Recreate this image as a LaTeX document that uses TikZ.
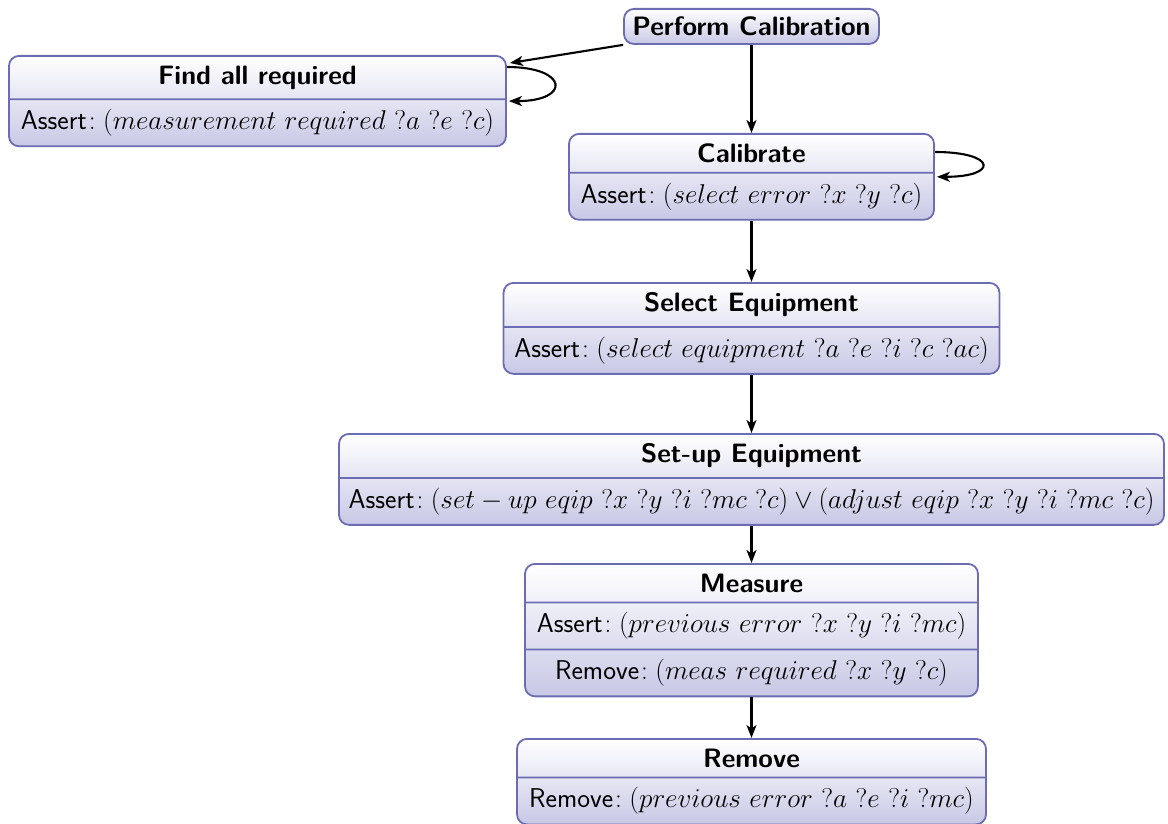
\RequirePackage{fix-cm}
\documentclass[tikz,border=0pt]{standalone}
\usetikzlibrary{shapes.multipart,arrows.meta}
\definecolor{umlborder}{RGB}{108,108,178}
\definecolor{umlfill}{RGB}{200,200,230}
\newcommand\wb[2]{\makebox[#1pt]{#2}}
\newcommand\lbl[1]{#1\kern2pt}
\newcommand\ttl[1]{{\fontsize{26.6}{31}\selectfont\bfseries #1}}
\tikzset{
  state/.style={rectangle split, rectangle split parts=2, draw=umlborder,
    line width=1.8pt, rounded corners=10pt, top color=white, bottom color=umlfill,
    font=\fontsize{27.2}{32}\selectfont\sffamily, inner xsep=8pt, inner ysep=9pt, anchor=north},
  single/.style={rectangle, draw=umlborder, line width=1.8pt, rounded corners=10pt,
    top color=white, bottom color=umlfill,
    font=\fontsize{27.2}{32}\selectfont\sffamily, inner xsep=8pt, inner ysep=8pt, anchor=north},
  arr/.style={-{Stealth[length=13pt,width=10pt,inset=3.5pt]}, line width=2.1pt, black},
}
\begin{document}
\begin{tikzpicture}[x=1pt,y=-1pt]
\useasboundingbox (0,0) rectangle (1168,824);
\node[single] (perf) at (751.5,8) {\wb{239}{\ttl{Perform Calibration}}};
\node[state] (find) at (257.5,55) {\wb{481}{\ttl{Find all required}}\nodepart{two}\wb{481}{\lbl{Assert}$:(measurement\ required\ ?a\ ?e\ ?c)$}};
\node[state] (cal) at (751.5,133) {\wb{349}{\ttl{Calibrate}}\nodepart{two}\wb{349}{\lbl{Assert}$:(select\ error\ ?x\ ?y\ ?c)$}};
\node[state] (sel) at (751.5,282) {\wb{480}{\ttl{Select Equipment}}\nodepart{two}\wb{480}{\lbl{Assert}$:(select\ equipment\ ?a\ ?e\ ?i\ ?c\ ?ac)$}};
\node[state] (setup) at (751.5,433) {\wb{809}{\ttl{Set-up Equipment}}\nodepart{two}\wb{809}{\lbl{Assert}$:(set-up\ eqip\ ?x\ ?y\ ?i\ ?mc\ ?c)\vee(adjust\ eqip\ ?x\ ?y\ ?i\ ?mc\ ?c)$}};
\node[state, rectangle split parts=3] (meas) at (751.5,563) {\wb{437}{\ttl{Measure}}\nodepart{two}\wb{437}{\lbl{Assert}$:(previous\ error\ ?x\ ?y\ ?i\ ?mc)$}\nodepart{three}\wb{437}{\lbl{Remove}$:(meas\ required\ ?x\ ?y\ ?c)$}};
\node[state] (rem) at (751.5,738) {\wb{453}{\ttl{Remove}}\nodepart{two}\wb{453}{\lbl{Remove}$:(previous\ error\ ?a\ ?e\ ?i\ ?mc)$}};
\draw[arr] (perf.south west) -- ([xshift=3pt,yshift=-8pt]find.north east);
\draw[arr] ([yshift=-12pt]find.north east) .. controls +(62,0) and +(62,0) .. ([xshift=2pt]find.east);
\draw[arr] ([yshift=-19pt]cal.north east) .. controls +(62,0) and +(62,0) .. ([xshift=2pt]cal.east);
\draw[arr] (perf.south) -- (cal.north);
\draw[arr] (cal.south) -- (sel.north);
\draw[arr] (sel.south) -- (setup.north);
\draw[arr] (setup.south) -- (meas.north);
\draw[arr] (meas.south) -- (rem.north);
\end{tikzpicture}
\end{document}
